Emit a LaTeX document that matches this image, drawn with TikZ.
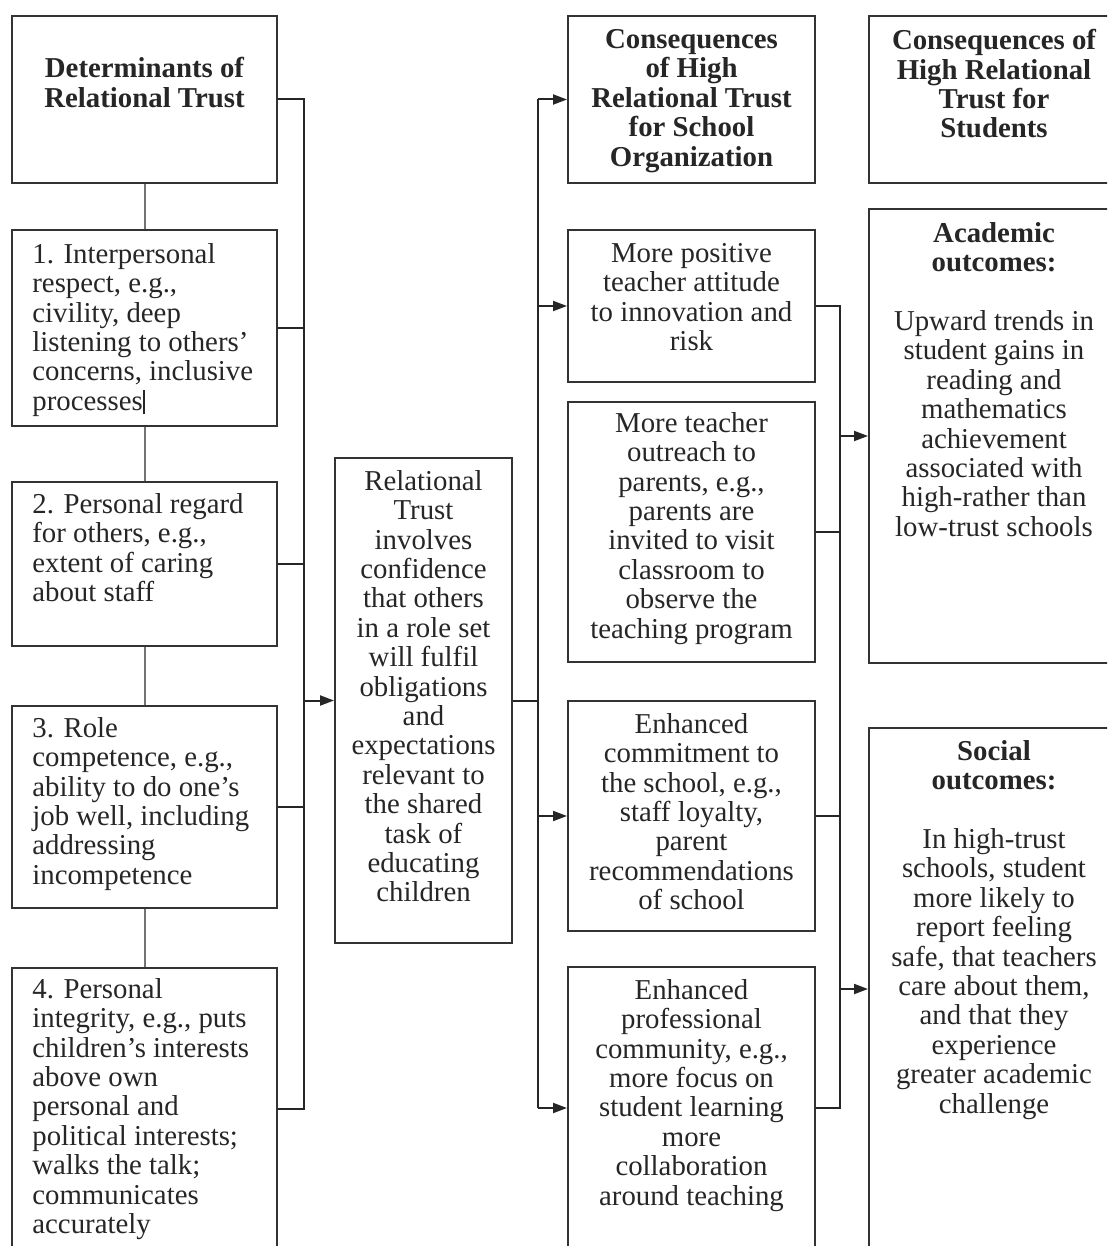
\documentclass[tikz,border=0pt]{standalone}
\usepackage{fontspec}
\setmainfont{Liberation Serif}
\usetikzlibrary{arrows.meta}

\begin{document}
\begin{tikzpicture}[
	x=1pt, y=-1pt,
	box/.style = {draw=black!80, line width=1pt, anchor=north west, inner sep=0pt},
	txt/.style = {font=\fontsize{14.4}{14.7}\selectfont, text=black!85,
		inner sep=0pt, align=center, anchor=north},
	ltxt/.style = {txt, align=left, anchor=north west},
	hd/.style = {txt, font=\fontsize{14.4}{14.7}\selectfont\bfseries},
	link/.style = {draw=black!55, line width=1pt},
	conn/.style = {draw=black!85, line width=1pt},
	arr/.style = {conn, -{Triangle[length=7pt,width=5pt]}}]
	\useasboundingbox[fill=white] (0,0) rectangle (553.5,623);
	\clip (0,0) rectangle (553.5,623);

	\node[box, minimum width=132.5pt, minimum height=83.5pt] (d0) at (5.5,7.5) {};
	\node[box, minimum width=132.5pt, minimum height=98pt] (b1) at (5.5,114.5) {};
	\node[box, minimum width=132.5pt, minimum height=82pt] (b2) at (5.5,240.5) {};
	\node[box, minimum width=132.5pt, minimum height=101pt] (b3) at (5.5,352.5) {};
	\node[box, minimum width=132.5pt, minimum height=141pt] (b4) at (5.5,483.5) {};

	\node[box, minimum width=88.5pt, minimum height=242.5pt] (rt) at (167,228.5) {};

	\node[box, minimum width=123.5pt, minimum height=83.5pt] (c0) at (283.5,7.5) {};
	\node[box, minimum width=123.5pt, minimum height=76pt] (c1) at (283.5,114.5) {};
	\node[box, minimum width=123.5pt, minimum height=130pt] (c2) at (283.5,200.5) {};
	\node[box, minimum width=123.5pt, minimum height=115pt] (c3) at (283.5,350) {};
	\node[box, minimum width=123.5pt, minimum height=141pt] (c4) at (283.5,483) {};

	\node[box, minimum width=125pt, minimum height=83.5pt] (s0) at (434,7.5) {};
	\node[box, minimum width=125pt, minimum height=227pt] (s1) at (434,104) {};
	\node[box, minimum width=125pt, minimum height=261pt] (s2) at (434,363.5) {};

	\node[hd] (d0t) at ([yshift=-21pt]d0.north) {Determinants of\\Relational Trust};
	\node[ltxt] (b1t) at ([xshift=10.5pt,yshift=-7pt]b1.north west)
		{1. Interpersonal\\respect, e.g.,\\civility, deep\\listening to others'\\concerns, inclusive\\processes\rule[-2pt]{0.9pt}{12pt}};
	\node[ltxt] (b2t) at ([xshift=10.5pt,yshift=-6pt]b2.north west)
		{2. Personal regard\\for others, e.g.,\\extent of caring\\about staff};
	\node[ltxt] (b3t) at ([xshift=10.5pt,yshift=-6pt]b3.north west)
		{3. Role\\competence, e.g.,\\ability to do one's\\job well, including\\addressing\\incompetence};
	\node[ltxt] (b4t) at ([xshift=10.5pt,yshift=-5.5pt]b4.north west)
		{4. Personal\\integrity, e.g., puts\\children's interests\\above own\\personal and\\political interests;\\walks the talk;\\communicates\\accurately};

	\node[txt] (rtt) at ([yshift=-6.5pt]rt.north)
		{Relational\\Trust\\involves\\confidence\\that others\\in a role set\\will fulfil\\obligations\\and\\expectations\\relevant to\\the shared\\task of\\educating\\children};

	\node[hd] (c0t) at ([yshift=-7pt]c0.north)
		{Consequences\\of High\\Relational Trust\\for School\\Organization};
	\node[txt] (c1t) at ([yshift=-7pt]c1.north)
		{More positive\\teacher attitude\\to innovation and\\risk};
	\node[txt] (c2t) at ([yshift=-5.5pt]c2.north)
		{More teacher\\outreach to\\parents, e.g.,\\parents are\\invited to visit\\classroom to\\observe the\\teaching program};
	\node[txt] (c3t) at ([yshift=-6.5pt]c3.north)
		{Enhanced\\commitment to\\the school, e.g.,\\staff loyalty,\\parent\\recommendations\\of school};
	\node[txt] (c4t) at ([yshift=-6.5pt]c4.north)
		{Enhanced\\professional\\community, e.g.,\\more focus on\\student learning\\more\\collaboration\\around teaching};

	\node[hd] (s0t) at ([yshift=-7pt]s0.north)
		{Consequences of\\High Relational\\Trust for\\Students};
	\node[txt] (s1t) at ([yshift=-7pt]s1.north)
		{\textbf{Academic}\\\textbf{outcomes:}\\[14.7pt]Upward trends in\\student gains in\\reading and\\mathematics\\achievement\\associated with\\high-rather than\\low-trust schools};
	\node[txt] (s2t) at ([yshift=-6.5pt]s2.north)
		{\textbf{Social}\\\textbf{outcomes:}\\[14.7pt]In high-trust\\schools, student\\more likely to\\report feeling\\safe, that teachers\\care about them,\\and that they\\experience\\greater academic\\challenge};

	\coordinate (lbus) at (152,0);
	\coordinate (mbus) at (269,0);
	\coordinate (rbus) at (420,0);

	\draw[link] (d0.south) -- (b1.north);
	\draw[link] (b1.south) -- (b2.north);
	\draw[link] (b2.south) -- (b3.north);
	\draw[link] (b3.south) -- (b4.north);

	\draw[conn] (d0.east) -- (d0.east -| lbus) -- (b4.east -| lbus) -- (b4.east);
	\foreach \n in {b1,b2,b3}
		\draw[conn] (\n.east) -- (\n.east -| lbus);
	\draw[arr] (rt.west -| lbus) -- (rt.west);

	\draw[conn] (rt.east) -- (rt.east -| mbus);
	\draw[conn] (c0.west -| mbus) -- (c4.west -| mbus);
	\foreach \n in {c0,c1,c3,c4}
		\draw[arr] (\n.west -| mbus) -- (\n.west);

	\draw[conn] (c1.east) -- (c1.east -| rbus) -- (c4.east -| rbus) -- (c4.east);
	\foreach \n in {c2,c3}
		\draw[conn] (\n.east) -- (\n.east -| rbus);
	\foreach \n in {s1,s2}
		\draw[arr] (\n.west -| rbus) -- (\n.west);
\end{tikzpicture}
\end{document}
